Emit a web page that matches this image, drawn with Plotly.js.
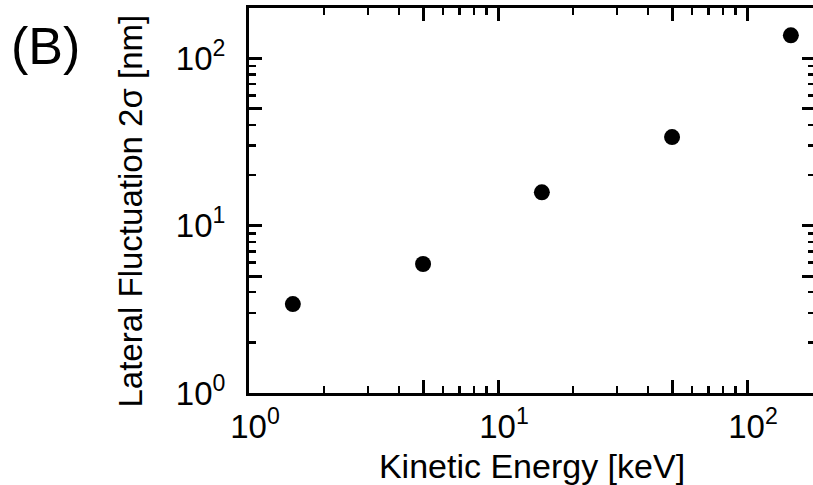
<!DOCTYPE html>
<html>
<head>
<meta charset="utf-8">
<script src="https://cdn.plot.ly/plotly-3.0.1.min.js"></script>
<style>
html,body{margin:0;padding:0;overflow:hidden;background:#fff;}
#chart{width:816px;height:485px;}
</style>
</head>
<body>
<div id="chart"></div>
<script>
// Data
const kineticEnergy = [1.5, 5, 15, 50, 150];          // keV
const lateralFluct = [3.4, 5.9, 15.8, 33.8, 137];      // nm

const xMajorVals = [1, 10, 100];
const xMajorText = ['10<sup>0</sup>', '10<sup>1</sup>', '10<sup>2</sup>'];
const xMidVals = [5, 50];
const xMinorVals = [2, 3, 4, 6, 7, 8, 9, 20, 30, 40, 60, 70, 80, 90, 200];
const yMajorVals = [1, 10, 100];
const yMajorText = ['10<sup>0</sup>', '10<sup>1</sup>', '10<sup>2</sup>'];
const yMidVals = [5, 50];
const yMinorVals = [2, 3, 4, 6, 7, 8, 9, 20, 30, 40, 60, 70, 80, 90];

const xTitle = 'Kinetic Energy [keV]';
const yTitle = 'Lateral Fluctuation 2σ [nm]';
const panelLabel = '(B)';

const fontFam = 'Liberation Sans, Arial, Helvetica, sans-serif';
const xRange = [0, 2.273];
const yRange = [0, 2.3];

const trace = {
  x: kineticEnergy,
  y: lateralFluct,
  type: 'scatter',
  mode: 'markers',
  marker: {symbol: 'circle', size: 16, color: '#000'},
  hoverinfo: 'x+y'
};
// invisible copy on the overlay axes so that the longer mid-decade ticks get drawn
const traceMid = {
  x: kineticEnergy,
  y: lateralFluct,
  xaxis: 'x2',
  yaxis: 'y2',
  type: 'scatter',
  mode: 'markers',
  marker: {size: 16, color: 'rgba(0,0,0,0)'},
  hoverinfo: 'skip'
};

const axisCommon = {
  type: 'log',
  showgrid: false,
  zeroline: false,
  showline: true,
  linecolor: '#000',
  linewidth: 3,
  mirror: 'allticks',
  ticks: 'inside',
  ticklen: 13,
  tickwidth: 3,
  tickcolor: '#000',
  tickmode: 'array',
  tickfont: {family: fontFam, size: 33, color: '#000'},
};

const midAxis = {
  type: 'log',
  showgrid: false,
  zeroline: false,
  showline: true,
  linecolor: '#000',
  linewidth: 3,
  mirror: 'allticks',
  ticks: 'inside',
  ticklen: 13,
  tickwidth: 3,
  tickcolor: '#000',
  tickmode: 'array',
  showticklabels: false
};

const layout = {
  width: 816,
  height: 485,
  margin: {l: 249, r: 1, t: 8, b: 92},
  paper_bgcolor: '#fff',
  plot_bgcolor: '#fff',
  showlegend: false,
  font: {family: fontFam, color: '#000'},
  xaxis: Object.assign({}, axisCommon, {
    range: xRange,
    tickvals: xMajorVals,
    ticktext: xMajorText,
    ticklabelstandoff: 2,
    ticklabelshift: 6,
    minor: {tickvals: xMinorVals, ticks: 'inside', ticklen: 7, tickwidth: 2.5, tickcolor: '#000', showgrid: false},
    title: {text: xTitle, font: {family: fontFam, size: 34, color: '#000'}, standoff: 13}
  }),
  yaxis: Object.assign({}, axisCommon, {
    range: yRange,
    tickvals: yMajorVals,
    ticktext: yMajorText,
    ticklabelstandoff: 14,
    minor: {tickvals: yMinorVals, ticks: 'inside', ticklen: 7, tickwidth: 2.5, tickcolor: '#000', showgrid: false}
  }),
  xaxis2: Object.assign({}, midAxis, {range: xRange, tickvals: xMidVals, overlaying: 'x', anchor: 'y', side: 'bottom'}),
  yaxis2: Object.assign({}, midAxis, {range: yRange, tickvals: yMidVals, overlaying: 'y', anchor: 'x', side: 'left'}),
  annotations: [{
    text: panelLabel,
    xref: 'paper', yref: 'paper',
    x: -0.3587, y: 0.901,
    xanchor: 'center', yanchor: 'middle',
    showarrow: false,
    font: {family: fontFam, size: 52, color: '#000'}
  }, {
    text: yTitle,
    xref: 'paper', yref: 'paper',
    x: -0.2102, y: 0.4714,
    xanchor: 'center', yanchor: 'middle',
    textangle: -90,
    showarrow: false,
    font: {family: fontFam, size: 33, color: '#000'}
  }]
};

Plotly.newPlot('chart', [trace, traceMid], layout, {displayModeBar: false, staticPlot: true});
</script>
</body>
</html>
